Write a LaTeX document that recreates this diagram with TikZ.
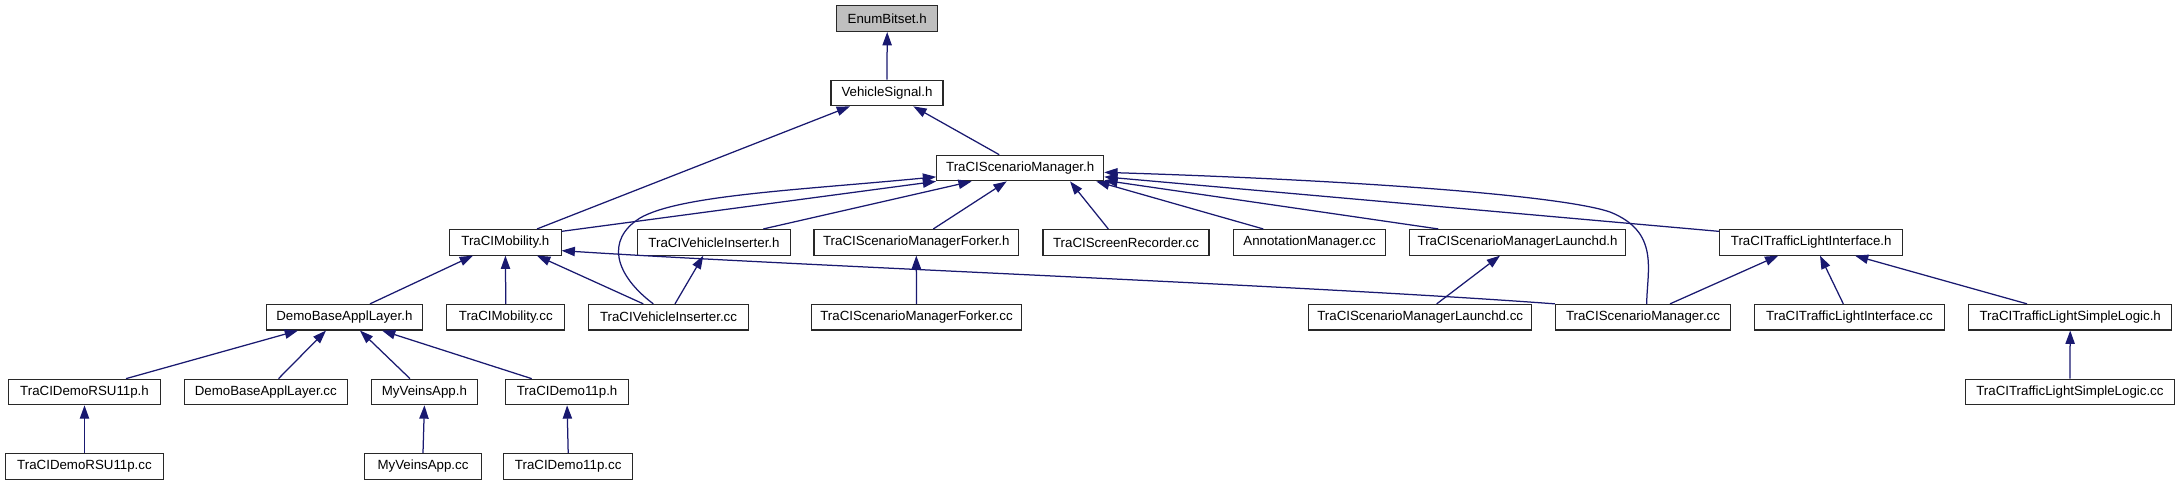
\documentclass[tikz,border=0pt]{standalone}
\usepackage{fontspec}
\setmainfont{Liberation Sans}
\usetikzlibrary{arrows.meta}
\definecolor{edgeblue}{RGB}{25,25,112}
\definecolor{boxgray}{RGB}{191,191,191}
\definecolor{boxline}{RGB}{40,40,40}
\begin{document}
\begin{tikzpicture}[x=1pt,y=-1pt,
  box/.style={draw=boxline, line width=1.1pt, fill=white, minimum height=25.6pt, inner sep=0pt, font=\fontsize{13.3}{16}\selectfont},
  dep/.style={draw=edgeblue, line width=1.25pt, {Triangle[length=13.3pt,width=9.3pt]}-}]
\useasboundingbox (0,0) rectangle (2180,485);
% row 0-2
\node[box, fill=boxgray, minimum width=101pt] (enum) at (887.2,18.7) {EnumBitset.h};
\node[box, minimum width=112pt] (vs) at (887,93) {VehicleSignal.h};
\node[box, minimum width=167pt] (tsm) at (1020.2,168) {TraCIScenarioManager.h};
% row 3
\node[box, minimum width=111.3pt] (tm) at (505.4,242.3) {TraCIMobility.h};
\node[box, minimum width=153.4pt] (tvih) at (714,242.3) {TraCIVehicleInserter.h};
\node[box, minimum width=204.6pt] (tsmfh) at (916.3,242.3) {TraCIScenarioManagerForker.h};
\node[box, minimum width=166pt] (tsrc) at (1126,242.3) {TraCIScreenRecorder.cc};
\node[box, minimum width=152.3pt] (am) at (1309.6,242.3) {AnnotationManager.cc};
\node[box, minimum width=216.3pt] (tsmlh) at (1517.6,242.3) {TraCIScenarioManagerLaunchd.h};
\node[box, minimum width=183.4pt] (ttlih) at (1811.2,242.3) {TraCITrafficLightInterface.h};
% row 4
\node[box, minimum width=155.7pt] (dbalh) at (344.4,317.2) {DemoBaseApplLayer.h};
\node[box, minimum width=117.8pt] (tmcc) at (505.8,317.2) {TraCIMobility.cc};
\node[box, minimum width=160pt] (tvicc) at (668.5,317.2) {TraCIVehicleInserter.cc};
\node[box, minimum width=209.8pt] (tsmfcc) at (916.5,317.2) {TraCIScenarioManagerForker.cc};
\node[box, minimum width=223pt] (tsmlcc) at (1420.2,317.2) {TraCIScenarioManagerLaunchd.cc};
\node[box, minimum width=175pt] (tsmcc) at (1643,317.2) {TraCIScenarioManager.cc};
\node[box, minimum width=189.5pt] (ttlicc) at (1849.5,317.2) {TraCITrafficLightInterface.cc};
\node[box, minimum width=202.8pt] (ttlslh) at (2070.2,317.2) {TraCITrafficLightSimpleLogic.h};
% row 5
\node[box, minimum width=152.2pt] (rsuh) at (84.5,392) {TraCIDemoRSU11p.h};
\node[box, minimum width=162.7pt] (dbalcc) at (265.8,392) {DemoBaseApplLayer.cc};
\node[box, minimum width=106.7pt] (mvah) at (424.4,392) {MyVeinsApp.h};
\node[box, minimum width=122.7pt] (d11h) at (567.1,392) {TraCIDemo11p.h};
\node[box, minimum width=209pt] (ttlslcc) at (2069.9,392) {TraCITrafficLightSimpleLogic.cc};
% row 6
\node[box, minimum width=158pt] (rsucc) at (84.5,466.3) {TraCIDemoRSU11p.cc};
\node[box, minimum width=116.4pt] (mvacc) at (423,466.3) {MyVeinsApp.cc};
\node[box, minimum width=129pt] (d11cc) at (568.2,466.3) {TraCIDemo11p.cc};
% edges
\draw[dep] (enum.south) -- (vs.north);
\draw[dep] ([xshift=-37]vs.south) -- ([xshift=31.6]tm.north);
\draw[dep] ([xshift=26.3]vs.south) -- ([xshift=-21]tsm.north);
\draw[dep] (tsm.south west) -- ([yshift=-2.4]tm.north east);
\draw[dep] ([yshift=4.5]tsm.south west) .. controls (800,190) and (680,195) .. (640,218) .. controls (605,240) and (615,275) .. ([xshift=-15.2]tvicc.north);
\draw[dep] ([xshift=-48.5]tsm.south) -- ([xshift=49.3]tvih.north);
\draw[dep] ([xshift=-13.5]tsm.south) -- ([xshift=17]tsmfh.north);
\draw[dep] ([xshift=49.8]tsm.south) -- ([xshift=-17.7]tsrc.north);
\draw[dep] ([xshift=76]tsm.south) -- ([xshift=-46.3]am.north);
\draw[dep] ([yshift=1]tsm.south east) -- ([xshift=-79.3]tsmlh.north);
\draw[dep] ([yshift=4.5]tsm.south east) -- ([yshift=-2.4]ttlih.north west);
\draw[dep] ([yshift=9]tsm.south east) .. controls (1350,180) and (1560,195) .. (1610,212) .. controls (1660,232) and (1647,270) .. ([xshift=3.7]tsmcc.north);
\draw[dep] ([xshift=-10.7]tvih.south) -- ([xshift=6.5]tvicc.north);
\draw[dep] ([xshift=-32.4]tm.south) -- ([xshift=25.6]dbalh.north);
\draw[dep] (tm.south) -- (tmcc.north);
\draw[dep] ([xshift=31.6]tm.south) -- ([xshift=-25.2]tvicc.north);
\draw[dep] ([yshift=5]tm.south east) .. controls (800,266) and (1300,285) .. (tsmcc.north west);
\draw[dep] (tsmfh.south) -- (tsmfcc.north);
\draw[dep] ([xshift=-17.6]tsmlh.south) -- ([xshift=16.5]tsmlcc.north);
\draw[dep] ([xshift=-32.9]ttlih.south) -- ([xshift=27]tsmcc.north);
\draw[dep] ([xshift=8.8]ttlih.south) -- ([xshift=-6.2]ttlicc.north);
\draw[dep] ([xshift=43.8]ttlih.south) -- ([xshift=-43.2]ttlslh.north);
\draw[dep] (ttlslh.south) -- (ttlslcc.north);
\draw[dep] ([xshift=-46.4]dbalh.south) -- ([xshift=41.5]rsuh.north);
\draw[dep] ([xshift=-18.4]dbalh.south) -- ([xshift=12.7]dbalcc.north);
\draw[dep] ([xshift=15.6]dbalh.south) -- ([xshift=-14.4]mvah.north);
\draw[dep] ([xshift=37.6]dbalh.south) -- ([xshift=-35.4]d11h.north);
\draw[dep] (rsuh.south) -- (rsucc.north);
\draw[dep] (mvah.south) -- (mvacc.north);
\draw[dep] (d11h.south) -- (d11cc.north);
\end{tikzpicture}
\end{document}
